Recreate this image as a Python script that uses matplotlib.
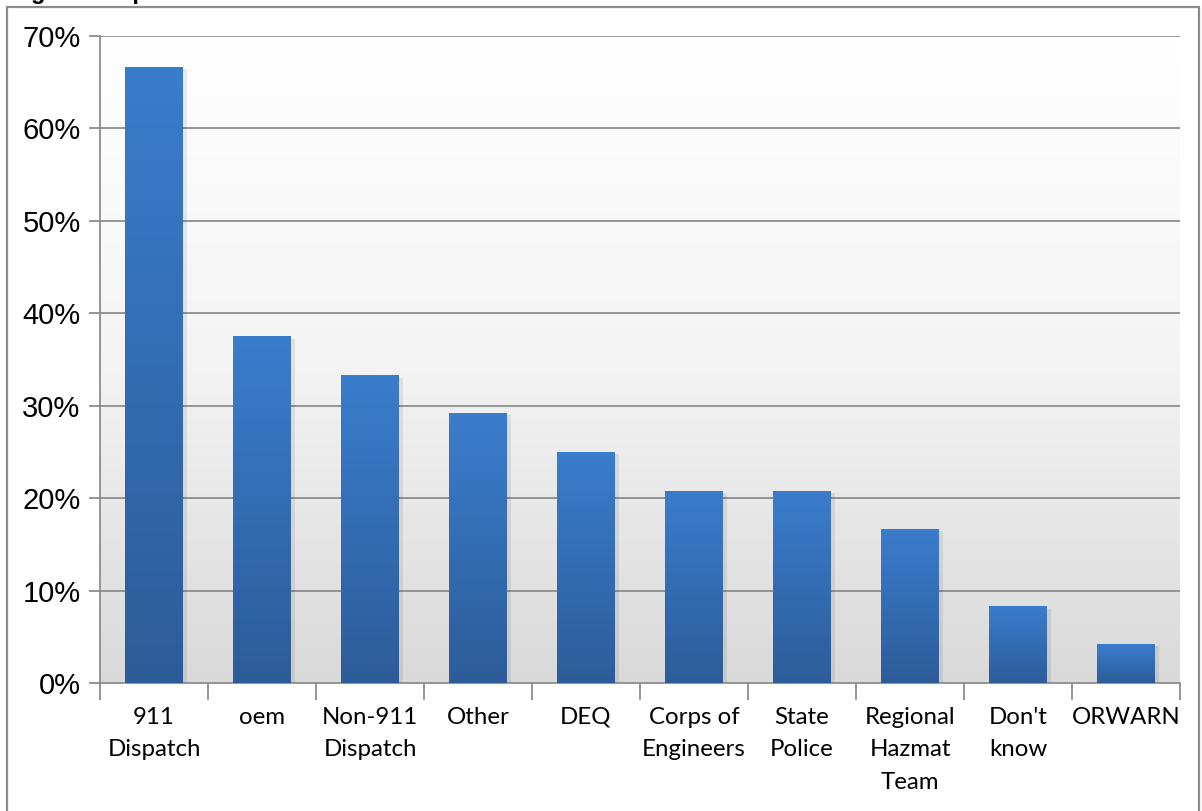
import numpy as np
import matplotlib
matplotlib.use("Agg")
import matplotlib.pyplot as plt
import matplotlib.ticker as mticker
from matplotlib.patches import Rectangle
from matplotlib.colors import LinearSegmentedColormap

# ── Data ──────────────────────────────────────────────────────────────────────
categories = ["911\nDispatch", "oem", "Non-911\nDispatch", "Other", "DEQ",
              "Corps of\nEngineers", "State\nPolice", "Regional\nHazmat\nTeam",
              "Don't\nknow", "ORWARN"]
shares = [66.7, 37.5, 33.3, 29.2, 25.0, 20.8, 20.8, 16.7, 8.3, 4.2]
y_ticks = [0, 10, 20, 30, 40, 50, 60, 70]

W, H = 1202, 811
fig = plt.figure(figsize=(W / 100, H / 100), dpi=100)
fig.patch.set_facecolor("white")

# axes box in pixel coords
L, R, T, B = 100, 1180, 36, 683
ax = fig.add_axes([L / W, 1 - B / H, (R - L) / W, (B - T) / H])

# outer frame of the chart object
fig.patches.append(Rectangle((7 / W, -0.1), (1199 - 7) / W, 1.1 - 7 / H,
                             transform=fig.transFigure, fill=False,
                             edgecolor="#8c8c8c", lw=1.6))

# title sits above the visible area; only its descenders show
fig.text(10 / W, 1 + 1 / H, "Figure 3: Spill Incident Notification",
         fontsize=17, fontweight="bold", family="Liberation Sans",
         va="baseline", ha="left")

n = len(categories)
x = np.arange(n)

# plot-area gradient (white top -> light grey bottom)
bg = LinearSegmentedColormap.from_list("bg", ["#d9d9d9", "#f4f4f4", "#ffffff"])
ax.imshow(np.linspace(0, 1, 256).reshape(-1, 1), cmap=bg, aspect="auto",
          extent=(-0.5, n - 0.5, 0, 70), origin="lower", zorder=0)

# gridlines
for yv in y_ticks[1:]:
    ax.axhline(yv, color="#8c8c8c", lw=1.3, zorder=1)

# bars with vertical gradient
bar_cmap = LinearSegmentedColormap.from_list("bar", ["#2d5c9a", "#3a7dcc"])
bars = ax.bar(x, shares, width=0.53, color="none", zorder=3)
for b in bars:
    bx, bw, bh = b.get_x(), b.get_width(), b.get_height()
    # soft shadow
    ax.add_patch(Rectangle((bx + 0.02, 0), bw + 0.02, bh - 0.25,
                           facecolor="#000000", alpha=0.08, lw=0, zorder=2))
    im = ax.imshow(np.linspace(0, 1, 256).reshape(-1, 1), cmap=bar_cmap,
                   aspect="auto", extent=(bx, bx + bw, 0, bh),
                   origin="lower", zorder=3)
    im.set_clip_path(b)

ax.set_xlim(-0.5, n - 0.5)
ax.set_ylim(0, 70)

# axes styling
for s in ["top", "right"]:
    ax.spines[s].set_visible(False)
for s in ["left", "bottom"]:
    ax.spines[s].set_color("#8c8c8c")
    ax.spines[s].set_linewidth(1.3)

ax.set_yticks(y_ticks)
ax.yaxis.set_major_formatter(mticker.FuncFormatter(lambda v, p: f"{v:.0f}%"))
ax.tick_params(axis="y", length=8, width=1.3, color="#8c8c8c", pad=6,
               labelsize=21)
for lbl in ax.get_yticklabels():
    lbl.set_family("Liberation Sans")

ax.set_xticks(np.arange(n + 1) - 0.5)
ax.set_xticklabels([])
ax.tick_params(axis="x", which="major", length=12, width=1.3,
               color="#8c8c8c", direction="out")
ax.set_xticks(x, minor=True)
ax.set_xticklabels(categories, minor=True, family="Lato", fontsize=17.3,
                   linespacing=1.68, va="top")
ax.tick_params(axis="x", which="minor", length=0, pad=17)

fig.savefig("out.png", dpi=100)
